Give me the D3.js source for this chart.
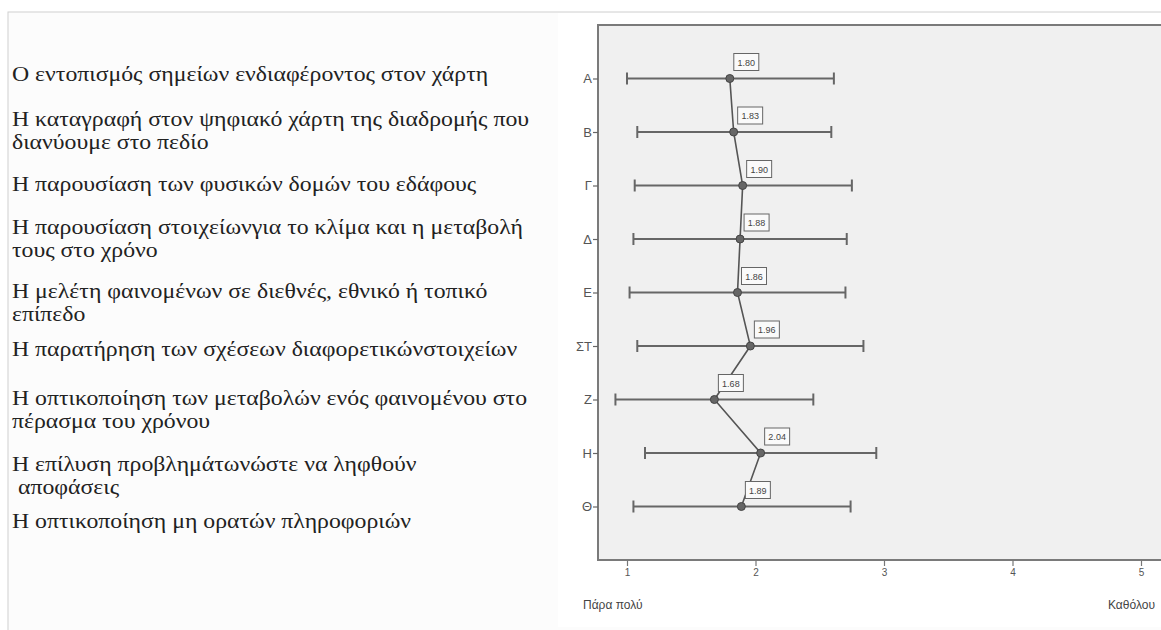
<!DOCTYPE html>
<html>
<head>
<meta charset="utf-8">
<script src="https://cdn.jsdelivr.net/npm/d3@7"></script>
<style>
  body { margin: 0; background: #fff; overflow: hidden; }
  svg { display: block; }
</style>
</head>
<body>
<div id="chart"></div>
<script>
'use strict';

// categories on the y axis (top to bottom)
var codes = ['Α', 'Β', 'Γ', 'Δ', 'Ε', 'ΣΤ', 'Ζ', 'Η', 'Θ'];
// mean values, labelled in the boxes
var means = [1.80, 1.83, 1.90, 1.88, 1.86, 1.96, 1.68, 2.04, 1.89];
// error bar ends
var lows  = [1.00, 1.08, 1.06, 1.05, 1.02, 1.08, 0.91, 1.14, 1.05];
var highs = [2.61, 2.59, 2.75, 2.71, 2.70, 2.84, 2.45, 2.94, 2.74];
var xTicks = [1, 2, 3, 4, 5];
var xEndLabels = ['Πάρα πολύ', 'Καθόλου'];
// statements shown on the left, one entry per item (lines)
var statements = [
	['Ο εντοπισμός σημείων ενδιαφέροντος στον χάρτη'],
	['Η καταγραφή στον ψηφιακό χάρτη της διαδρομής που', 'διανύουμε στο πεδίο'],
	['Η παρουσίαση των φυσικών δομών του εδάφους'],
	['Η παρουσίαση στοιχείωνγια το κλίμα και η μεταβολή', 'τους στο χρόνο'],
	['Η μελέτη φαινομένων σε διεθνές, εθνικό ή τοπικό', 'επίπεδο'],
	['Η παρατήρηση των σχέσεων διαφορετικώνστοιχείων'],
	['Η οπτικοποίηση των μεταβολών ενός φαινομένου στο', 'πέρασμα του χρόνου'],
	['Η επίλυση προβλημάτωνώστε να ληφθούν', ' αποφάσεις'],
	['Η οπτικοποίηση μη ορατών πληροφοριών']
];
// vertical position of the first line of each statement
var statementY = [81, 126, 191, 234, 298, 356, 405, 471, 528];

var W = 1161, H = 630;
var svg = d3.select('#chart').append('svg')
	.attr('width', W)
	.attr('height', H);

// slide panel
svg.append('rect')
	.attr('x', 8).attr('y', 12)
	.attr('width', W).attr('height', H - 10)
	.attr('fill', '#fcfcfc')
	.attr('stroke', '#cfcfcf')
	.attr('stroke-width', 1);
svg.append('rect')
	.attr('x', 558).attr('y', 13)
	.attr('width', W - 558).attr('height', H - 16)
	.attr('fill', '#ffffff');

// left text (the slide font is wider than Liberation Serif, so stretch it a bit)
var textG = svg.append('g')
	.attr('transform', 'translate(12,0) scale(1.16,1)')
	.attr('font-family', 'Liberation Serif, serif')
	.attr('font-size', 20.5)
	.attr('fill', '#222');
statements.forEach(function(lines, i) {
	lines.forEach(function(line, j) {
		textG.append('text')
			.attr('x', 0)
			.attr('y', statementY[i] + j * 23)
			.attr('xml:space', 'preserve')
			.text(line);
	});
});

// chart
var plot = {left: 598, top: 25, right: W, bottom: 560};
var x = d3.scaleLinear().domain([1, 5]).range([627, 1141]);
var y = d3.scalePoint().domain(codes).range([plot.top, plot.bottom]).padding(1);

svg.append('rect')
	.attr('x', plot.left).attr('y', plot.top)
	.attr('width', plot.right - plot.left)
	.attr('height', plot.bottom - plot.top)
	.attr('fill', '#f0f0f0');
// frame: top, left and bottom only, the right side runs off the picture
svg.append('path')
	.attr('d', 'M' + plot.right + ',' + plot.top + 'H' + plot.left + 'V' + plot.bottom + 'H' + plot.right)
	.attr('fill', 'none')
	.attr('stroke', '#7a7a7a')
	.attr('stroke-width', 2);

var yAxis = svg.append('g')
	.attr('transform', 'translate(' + plot.left + ',0)')
	.call(d3.axisLeft(y).tickSize(5).tickPadding(1));
yAxis.select('.domain').remove();
yAxis.selectAll('line').attr('stroke', '#666').attr('stroke-width', 1.2);
yAxis.selectAll('text')
	.attr('font-family', 'Liberation Sans, Arial, sans-serif')
	.attr('font-size', 13)
	.attr('fill', '#555');

var xAxis = svg.append('g')
	.attr('transform', 'translate(0,' + plot.bottom + ')')
	.call(d3.axisBottom(x).tickValues(xTicks).tickFormat(d3.format('d')).tickSize(6).tickPadding(3));
xAxis.select('.domain').remove();
xAxis.selectAll('line').attr('stroke', '#777').attr('stroke-width', 1.2);
xAxis.selectAll('text')
	.attr('font-family', 'Liberation Sans, Arial, sans-serif')
	.attr('font-size', 10)
	.attr('fill', '#555');

svg.append('text')
	.attr('x', x(1) - 44).attr('y', 609)
	.attr('font-family', 'Liberation Sans, Arial, sans-serif')
	.attr('font-size', 12).attr('fill', '#444')
	.text(xEndLabels[0]);
svg.append('text')
	.attr('x', x(5) - 33).attr('y', 609)
	.attr('font-family', 'Liberation Sans, Arial, sans-serif')
	.attr('font-size', 12).attr('fill', '#444')
	.text(xEndLabels[1]);

var rows = codes.map(function(c, i) {
	return {code: c, mean: means[i], lo: lows[i], hi: highs[i]};
});

// error bars
var bars = svg.append('g')
	.attr('stroke', '#666')
	.attr('stroke-width', 2);
bars.selectAll('line.bar').data(rows).enter().append('line')
	.attr('x1', function(d) { return x(d.lo); })
	.attr('x2', function(d) { return x(d.hi); })
	.attr('y1', function(d) { return y(d.code); })
	.attr('y2', function(d) { return y(d.code); });
bars.selectAll('line.capl').data(rows).enter().append('line')
	.attr('x1', function(d) { return x(d.lo); })
	.attr('x2', function(d) { return x(d.lo); })
	.attr('y1', function(d) { return y(d.code) - 6; })
	.attr('y2', function(d) { return y(d.code) + 6; });
bars.selectAll('line.caph').data(rows).enter().append('line')
	.attr('x1', function(d) { return x(d.hi); })
	.attr('x2', function(d) { return x(d.hi); })
	.attr('y1', function(d) { return y(d.code) - 6; })
	.attr('y2', function(d) { return y(d.code) + 6; });

// mean line
var line = d3.line()
	.x(function(d) { return x(d.mean); })
	.y(function(d) { return y(d.code); });
svg.append('path')
	.datum(rows)
	.attr('d', line)
	.attr('fill', 'none')
	.attr('stroke', '#555')
	.attr('stroke-width', 1.6);

svg.selectAll('circle.mean').data(rows).enter().append('circle')
	.attr('cx', function(d) { return x(d.mean); })
	.attr('cy', function(d) { return y(d.code); })
	.attr('r', 4)
	.attr('fill', '#666')
	.attr('stroke', '#444')
	.attr('stroke-width', 1);

// value boxes
var labels = svg.selectAll('g.lab').data(rows).enter().append('g')
	.attr('transform', function(d) {
		return 'translate(' + (x(d.mean) + 4) + ',' + (y(d.code) - 25) + ')';
	});
labels.append('rect')
	.attr('width', 25).attr('height', 17)
	.attr('fill', '#fafafa')
	.attr('stroke', '#666')
	.attr('stroke-width', 1);
labels.append('text')
	.attr('x', 12.5).attr('y', 12)
	.attr('text-anchor', 'middle')
	.attr('font-family', 'Liberation Sans, Arial, sans-serif')
	.attr('font-size', 9)
	.attr('fill', '#444')
	.text(function(d) { return d3.format('.2f')(d.mean); });
</script>
</body>
</html>
